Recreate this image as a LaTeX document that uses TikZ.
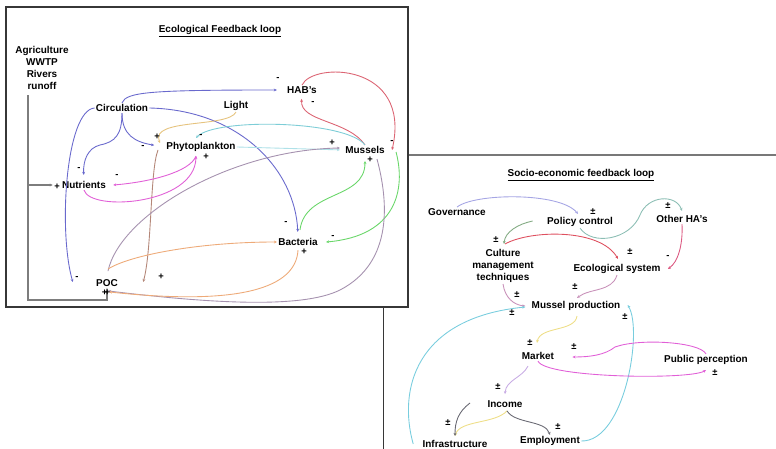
\documentclass[tikz,border=0pt]{standalone}
\usepackage{fontspec}
\setmainfont{Liberation Sans}
\usetikzlibrary{arrows.meta,positioning,calc}
\definecolor{framedark}{RGB}{55,55,55}
\definecolor{framegray}{RGB}{120,120,120}
\definecolor{feedgray}{RGB}{125,125,125}
\definecolor{ecoblue}{RGB}{105,105,205}
\definecolor{ecored}{RGB}{220,100,115}
\definecolor{ecocyan}{RGB}{125,205,215}
\definecolor{ecocyanlt}{RGB}{175,225,232}
\definecolor{ecogreen}{RGB}{105,215,105}
\definecolor{ecopurple}{RGB}{165,145,175}
\definecolor{ecoorange}{RGB}{238,170,120}
\definecolor{ecotan}{RGB}{230,195,125}
\definecolor{ecobrown}{RGB}{180,135,120}
\definecolor{ecomag}{RGB}{225,95,215}
\definecolor{sobluelav}{RGB}{165,165,228}
\definecolor{sogreen}{RGB}{130,170,130}
\definecolor{soteal}{RGB}{140,190,180}
\definecolor{sopink}{RGB}{220,90,130}
\definecolor{sored}{RGB}{222,80,95}
\definecolor{somauve}{RGB}{200,145,185}
\definecolor{socyan}{RGB}{120,205,222}
\definecolor{soyellow}{RGB}{238,222,135}
\definecolor{solav}{RGB}{200,172,228}
\definecolor{soslate}{RGB}{105,105,115}
\tikzset{
  lbl/.style={font=\fontsize{8.5}{10.2}\selectfont\bfseries, inner sep=1pt, align=center},
  ttl/.style={font=\fontsize{8.5}{10.2}\selectfont\bfseries, inner sep=1pt},
  sgn/.style={font=\fontsize{8}{8}\selectfont\bfseries, inner sep=0pt},
  link/.style={-{Stealth[length=2.6pt,width=2.4pt]}, line width=0.75pt},
  feed/.style={-{Stealth[length=2.6pt,width=2.4pt]}, line width=0.9pt, draw=feedgray},
  panel/.style={line width=1.3pt, draw=framedark},
}
\begin{document}
\begin{tikzpicture}[x=0.03cm, y=-0.03cm]
    \useasboundingbox (0,0) rectangle (776,449);
    \clip (0,0) rectangle (776,449);
    % socio-economic panel, partly behind the ecological one
    \draw[line width=0.8pt, draw=framedark] (383,460) -- (383,155);
    \draw[line width=1.6pt, draw=framegray] (383,155) -- (790,155);
    \filldraw[panel, fill=white] (6,7) rectangle (408,307);

    % ecological feedback loop
    \node[ttl] (ecotitle) at (220,31) {\underline{Ecological Feedback loop}};
    \node[lbl] (src) at (42,68) {Agriculture\\WWTP\\Rivers\\runoff};
    \node[lbl] (circ) at (122,108) {Circulation};
    \node[lbl] (light) at (236,106) {Light};
    \node[lbl] (hab) at (302,90) {HAB's};
    \node[lbl] (phy) at (201,147) {Phytoplankton};
    \node[lbl] (mus) at (365,150) {Mussels};
    \node[lbl] (nut) at (84,185) {Nutrients};
    \node[lbl] (bac) at (298,242) {Bacteria};
    \node[lbl] (poc) at (107,283) {POC};
    \coordinate (srcfoot) at (28,95);

    \draw[feed] (srcfoot) -- ++(0,205) -| (poc.south);
    \draw[feed, shorten >=2.4mm] (srcfoot |- nut) -- (nut.west);

    \draw[link, ecoblue, shorten >=2.7mm] (circ.north) .. controls (126,92) and (150,90) .. (hab.west);
    \draw[link, ecoblue, shorten >=1.5mm] (circ.south) .. controls (122,135) and (115,142) .. (100,145) .. controls (88,148) and (83,160) .. (nut.north);
    \draw[link, ecoblue, shorten >=3.3mm] (circ.south) .. controls (122,135) and (135,142) .. (phy.west);
    \draw[link, ecoblue, shorten >=1.5mm] (circ.east) .. controls (240,110) and (295,170) .. (bac.north);
    \draw[link, ecoblue] (circ.west) .. controls (66,110) and (58,230) .. ($(poc.west)+(-22,-1)$);
    \draw[link, ecotan] (light.south) .. controls (228,128) and (150,118) .. ($(phy.west)+(-5,-4)$);
    \draw[link, ecobrown] ($(phy.west)+(-7,3)$) .. controls (150,170) and (152,250) .. ($(poc.east)+(24,-1)$);
    \draw[link, ecored, shorten >=1.2mm] (mus.north) .. controls (348,120) and (300,122) .. (hab.south);
    \draw[link, ecored] (hab.north) .. controls (312,62) and (412,62) .. ($(mus.east)+(6,0)$);
    \draw[link, ecocyan] (mus.north) .. controls (345,120) and (215,118) .. ($(phy.north)+(-5,-3)$);
    \draw[link, ecocyanlt, shorten >=1.2mm] (phy.east) -- (mus.west);
    \draw[link, ecopurple] ($(poc.north)+(1,-7)$) .. controls (120,215) and (230,150) .. ($(mus.west)+(-4,-2)$);
    \draw[link, ecogreen] ($(mus.east)+(10,2)$) .. controls (406,190) and (396,236) .. ($(bac.east)+(7,0)$);
    \draw[link, ecogreen] ($(bac.north)+(2,-7)$) .. controls (305,190) and (365,200) .. ($(mus.south)+(0,6)$);
    \draw[link, ecopurple] ($(mus.south)+(12,4)$) .. controls (388,200) and (394,262) .. (340,290) .. controls (300,310) and (200,302) .. ($(poc.south)+(1,3)$);
    \draw[link, ecoorange] ($(bac.south)+(0,3)$) .. controls (296,288) and (240,306) .. ($(poc.south)+(2,4)$);
    \draw[link, ecoorange] ($(poc.north)+(1,-9)$) .. controls (130,255) and (200,242) .. (bac.west);
    \draw[link, ecomag] (nut.south) .. controls (90,212) and (195,205) .. ($(phy.south)+(-5,3)$);
    \draw[link, ecomag] ($(phy.south)+(-5,3)$) .. controls (190,172) and (150,182) .. ($(nut.east)+(6,0)$);

    \node[sgn] (habS1) at (278,79) {-};
    \node[sgn] (habS2) at (313,103) {-};
    \node[sgn] (musS1) at (332,143) {+};
    \node[sgn] (musS2) at (392,142) {-};
    \node[sgn] (musS3) at (370,160) {+};
    \node[sgn] (phyS1) at (157,137) {+};
    \node[sgn] (phyS2) at (143,147) {-};
    \node[sgn] (phyS3) at (201,136) {-};
    \node[sgn] (phyS4) at (206,157) {+};
    \node[sgn] (nutS1) at (79,169) {-};
    \node[sgn] (nutS2) at (117,176) {-};
    \node[sgn] (nutS3) at (57,187) {+};
    \node[sgn] (bacS1) at (286,223) {-};
    \node[sgn] (bacS2) at (333,237) {-};
    \node[sgn] (bacS3) at (304,252) {+};
    \node[sgn] (pocS1) at (77,278) {-};
    \node[sgn] (pocS2) at (161,277) {+};
    \node[sgn] (pocS3) at (106,293) {+\kern-2.5pt+};

    % socio-economic feedback loop
    \node[ttl] (sotitle) at (581,175) {\underline{Socio-economic feedback loop}};
    \node[lbl] (gov) at (457,212) {Governance};
    \node[lbl] (pol) at (580,222) {Policy control};
    \node[lbl] (oth) at (682,219) {Other HA's};
    \node[lbl] (cul) at (503,266) {Culture\\management\\techniques};
    \node[lbl] (ecs) at (617,269) {Ecological system};
    \node[lbl] (mp) at (576,306) {Mussel production};
    \node[lbl] (mkt) at (538,356) {Market};
    \node[lbl] (pub) at (706,360) {Public perception};
    \node[lbl] (inc) at (505,404) {Income};
    \node[lbl] (inf) at (455,444) {Infrastructure};
    \node[lbl] (emp) at (550,441) {Employment};
    \coordinate (infsrc) at (470,403);

    \draw[link, sobluelav] (gov.north) .. controls (475,193) and (560,192) .. ($(pol.north)+(-2,-2)$);
    \draw[link, sogreen] ($(pol.west)+(-13,-1)$) .. controls (518,224) and (505,232) .. ($(cul.north)+(1,-4)$);
    \draw[link, soteal] (pol.south) .. controls (592,246) and (630,240) .. (640,215) .. controls (648,195) and (676,194) .. ($(oth.north)+(0,-3)$);
    \draw[link, sopink] (oth.south) .. controls (683,245) and (678,262) .. ($(ecs.east)+(6,0)$);
    \draw[link, sored] ($(cul.north)+(2,-4)$) .. controls (530,230) and (600,228) .. ($(ecs.north)+(1,-4)$);
    \draw[link, somauve] (ecs.south) .. controls (612,292) and (590,288) .. ($(mp.north)+(1,-2)$);
    \draw[link, somauve] (cul.south) .. controls (505,298) and (514,305) .. ($(mp.west)+(-5,0)$);
    \draw[link, socyan] (emp.east) .. controls (625,442) and (643,330) .. ($(mp.east)+(6,-1)$);
    \draw[link, socyan] ($(inf.west)+(-8,0)$) .. controls (398,390) and (415,318) .. ($(mp.west)+(-5,1)$);
    \draw[link, soyellow] ($(mp.south)+(1,4)$) .. controls (575,332) and (540,326) .. ($(mkt.north)+(-1,-8)$);
    \draw[link, ecomag] (mkt.south) .. controls (545,378) and (690,380) .. ($(pub.south)+(0,4)$);
    \draw[link, ecomag] (pub.north) .. controls (700,342) and (640,338) .. (615,347) .. controls (605,355) and (590,357) .. ($(mkt.east)+(17,1)$);
    \draw[link, solav] ($(mkt.south)+(-10,5)$) .. controls (522,378) and (506,380) .. ($(inc.north)+(0,-5)$);
    \draw[link, soyellow] ($(inc.south)+(2,2)$) .. controls (495,424) and (460,420) .. ($(inf.north)+(0,-3)$);
    \draw[link, soslate] ($(inc.south)+(2,2)$) .. controls (515,424) and (545,420) .. (emp.north);
    \draw[link, soslate] (infsrc) .. controls (458,412) and (455,422) .. ($(inf.north)+(0,-3)$);

    \node[sgn] (polS1) at (593,212) {±};
    \node[sgn] (culS1) at (496,240) {±};
    \node[sgn] (othS1) at (668,206) {±};
    \node[sgn] (ecsS1) at (668,257) {-};
    \node[sgn] (ecsS2) at (630,252) {±};
    \node[sgn] (mpS1) at (575,287) {±};
    \node[sgn] (mpS2) at (517,295) {±};
    \node[sgn] (mpS3) at (512,313) {±};
    \node[sgn] (mpS4) at (625,317) {±};
    \node[sgn] (mktS1) at (530,343) {±};
    \node[sgn] (mktS2) at (574,347) {±};
    \node[sgn] (pubS1) at (715,373) {±};
    \node[sgn] (incS1) at (498,387) {±};
    \node[sgn] (infS1) at (448,423) {±};
    \node[sgn] (empS1) at (558,427) {±};
\end{tikzpicture}
\end{document}
